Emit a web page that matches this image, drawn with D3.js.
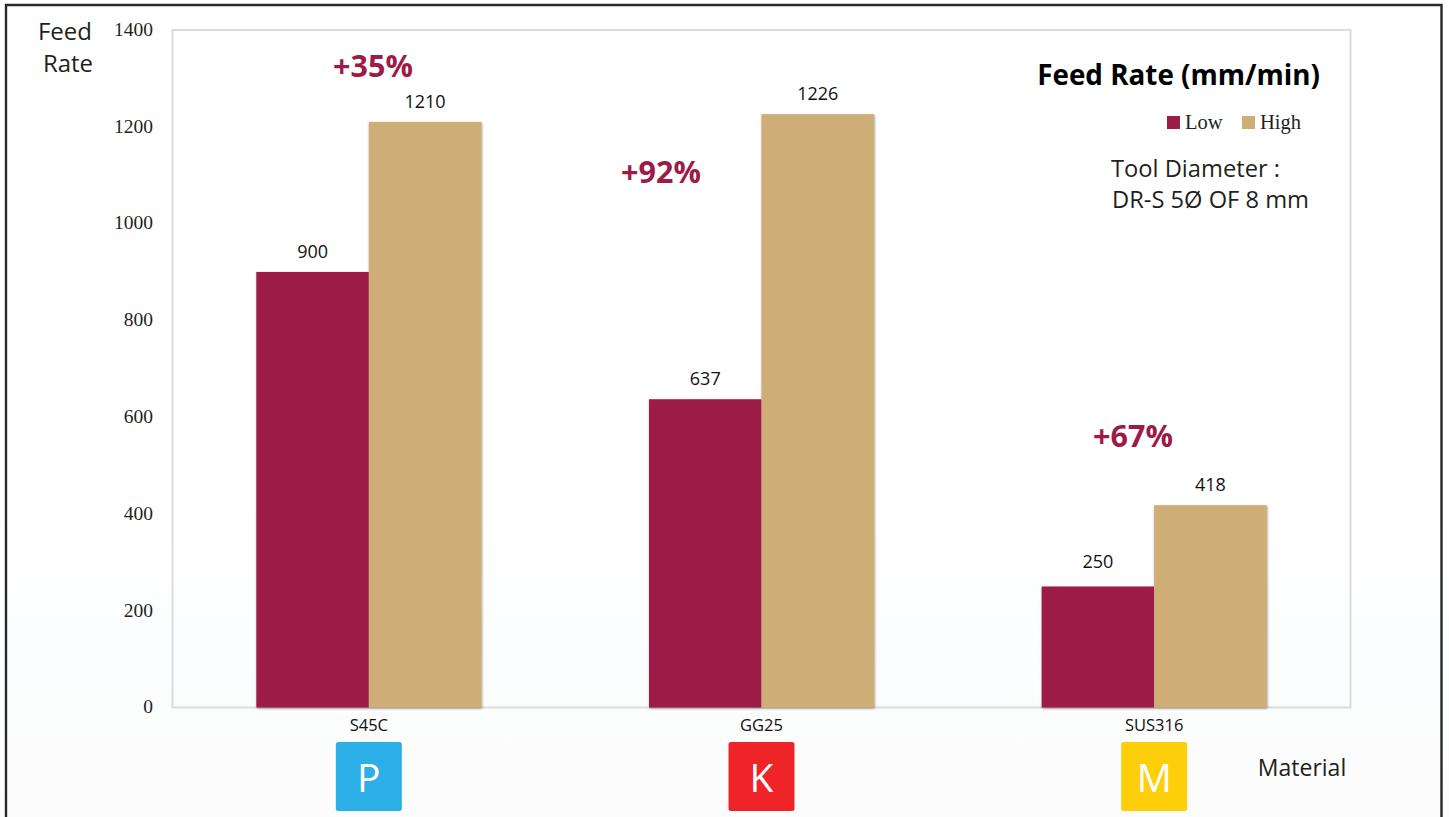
<!DOCTYPE html>
<html>
<head>
<meta charset="utf-8">
<script src="https://cdn.jsdelivr.net/npm/d3@7"></script>
<style>
  html, body { margin: 0; padding: 0; background: #fff; }
  svg { display: block; }
  .sans { font-family: "Open Sans", "Noto Sans", sans-serif; }
  .serif { font-family: "Liberation Serif", serif; }
</style>
</head>
<body>
<svg id="chart" width="1449" height="817"></svg>
<script>
// Feed rate by workpiece material
const materials = ["S45C", "GG25", "SUS316"];
const isoGroups = ["P", "K", "M"];
const isoColors = ["#2cafe6", "#ef2428", "#fccf0a"];
const seriesNames = ["Low", "High"];
const seriesColors = ["#9d1c47", "#cead77"];
const lowValues = [900, 637, 250];
const highValues = [1210, 1226, 418];
const gains = ["+35%", "+92%", "+67%"];
const yTicks = [0, 200, 400, 600, 800, 1000, 1200, 1400];

const svg = d3.select("#chart");
const plot = { left: 172.5, right: 1350.5, top: 30, bottom: 707.5 };

const defs = svg.append("defs");
const wash = defs.append("linearGradient")
  .attr("id", "pageWash").attr("x1", 0).attr("x2", 0).attr("y1", 0).attr("y2", 1);
wash.append("stop").attr("offset", "0.62").attr("stop-color", "#ffffff");
wash.append("stop").attr("offset", "0.8").attr("stop-color", "#fcfdfe");
wash.append("stop").attr("offset", "1").attr("stop-color", "#fcfcfc");

const shadow = defs.append("filter").attr("id", "barShadow")
  .attr("x", "-5%").attr("y", "-2%").attr("width", "110%").attr("height", "104%");
shadow.append("feDropShadow")
  .attr("dx", 0.6).attr("dy", 1).attr("stdDeviation", 1)
  .attr("flood-color", "#444").attr("flood-opacity", 0.6);

svg.append("rect").attr("width", 1449).attr("height", 817).attr("fill", "url(#pageWash)");

// Outer page border, open at the bottom edge
svg.append("path")
  .attr("d", "M6,817V5H1441.5V817")
  .attr("fill", "none").attr("stroke", "#2a2829").attr("stroke-width", 2.4);

// Plot frame
svg.append("rect")
  .attr("x", plot.left).attr("y", plot.top)
  .attr("width", plot.right - plot.left).attr("height", plot.bottom - plot.top)
  .attr("fill", "none").attr("stroke", "#dcdcdc").attr("stroke-width", 2);

const x = d3.scaleBand().domain(materials).range([plot.left, plot.right])
  .paddingInner(0.427).paddingOuter(0.2135);
const inner = d3.scaleBand().domain(seriesNames).range([0, x.bandwidth()]);
const y = d3.scaleLinear().domain([0, 1400]).range([plot.bottom, plot.top]);

// Y axis: serif numerals with no ticks or domain line
const yAxis = svg.append("g")
  .attr("transform", `translate(${plot.left - 19.5},-0.9)`)
  .call(d3.axisLeft(y).tickValues(yTicks).tickSize(0).tickPadding(0).tickFormat(d3.format("d")));
yAxis.select(".domain").remove();
yAxis.selectAll("text").attr("class", "serif")
  .attr("font-size", 19.5).attr("fill", "#231f20").attr("font-family", "Liberation Serif");

// X axis: material names
const xAxis = svg.append("g")
  .attr("transform", `translate(0,${plot.bottom})`)
  .call(d3.axisBottom(x).tickSize(0).tickPadding(0));
xAxis.select(".domain").remove();
xAxis.selectAll("text").attr("class", "sans")
  .attr("font-family", "Open Sans").attr("font-size", 16.5).attr("fill", "#111")
  .attr("dy", "0").attr("y", 23);

// Bars
const labelLift = [[14, 14], [14, 14], [19, 14]];
const rows = materials.map((m, i) => ({ material: m, values: [lowValues[i], highValues[i]], lift: labelLift[i] }));
const groups = svg.append("g").selectAll("g").data(rows).join("g")
  .attr("transform", d => `translate(${x(d.material)},0)`);

groups.append("g").attr("filter", "url(#barShadow)").selectAll("rect")
  .data(d => d.values)
  .join("rect")
  .attr("x", (d, i) => inner(seriesNames[i]))
  .attr("y", d => y(d))
  .attr("width", inner.bandwidth())
  .attr("height", d => y(0) - y(d))
  .attr("fill", (d, i) => seriesColors[i]);

groups.selectAll("text.value")
  .data(d => d.values.map((v, i) => ({ v, i, lift: d.lift[i] })))
  .join("text").attr("class", "value sans")
  .attr("x", d => inner(seriesNames[d.i]) + inner.bandwidth() / 2)
  .attr("y", d => y(d.v) - d.lift)
  .attr("text-anchor", "middle")
  .attr("font-size", 18).attr("fill", "#111")
  .text(d => d.v);

// Percentage gain callouts
const gainX = [373, 661, 1133];
const gainY = [77, 183, 447];
svg.append("g").selectAll("text").data(gains).join("text")
  .attr("class", "sans")
  .attr("x", (d, i) => gainX[i]).attr("y", (d, i) => gainY[i])
  .attr("text-anchor", "middle")
  .attr("font-size", 30.5).attr("font-weight", 700).attr("fill", "#9d1c47")
  .text(d => d);

// ISO material group badges
const badges = svg.append("g").selectAll("g").data(materials).join("g")
  .attr("transform", d => `translate(${x(d) + x.bandwidth() / 2},0)`);
badges.append("rect")
  .attr("x", -33).attr("y", 742).attr("width", 66).attr("height", 69).attr("rx", 2.5)
  .attr("fill", (d, i) => isoColors[i]);
badges.append("text")
  .attr("class", "sans").attr("y", 792).attr("text-anchor", "middle")
  .attr("font-size", 39).attr("fill", "#fff")
  .text((d, i) => isoGroups[i]);

// Axis captions
const captions = [
  ["Feed", 65, 40, "middle", 24],
  ["Rate", 68, 72, "middle", 24],
  ["Material", 1302, 776, "middle", 23],
  ["Tool Diameter :", 1111, 177, "start", 23.7],
  ["DR-S 5Ø OF 8 mm", 1112, 208, "start", 23.7]
];
svg.append("g").selectAll("text").data(captions).join("text")
  .attr("class", "sans")
  .attr("x", d => d[1]).attr("y", d => d[2])
  .attr("text-anchor", d => d[3]).attr("font-size", d => d[4]).attr("fill", "#231f20")
  .text(d => d[0]);

svg.append("text").attr("class", "sans")
  .attr("x", 1320).attr("y", 84.5).attr("text-anchor", "end")
  .attr("font-size", 27.8).attr("font-weight", 700).attr("fill", "#000")
  .text("Feed Rate (mm/min)");

// Legend
const legendX = d3.scaleOrdinal().domain(seriesNames).range([1167, 1242]);
const legend = svg.append("g").selectAll("g").data(seriesNames).join("g")
  .attr("transform", d => `translate(${legendX(d)},116)`);
legend.append("rect").attr("width", 13).attr("height", 13)
  .attr("fill", (d, i) => seriesColors[i]);
legend.append("text").attr("class", "serif")
  .attr("x", 18).attr("y", 12.5).attr("font-size", 20.5).attr("fill", "#231f20")
  .text(d => d);
</script>
</body>
</html>
